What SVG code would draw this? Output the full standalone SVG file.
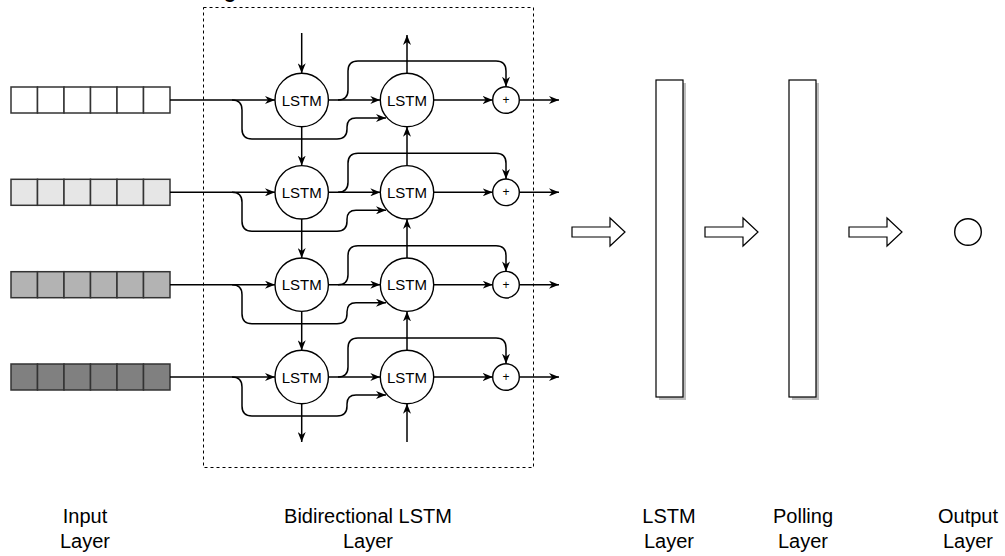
<svg xmlns="http://www.w3.org/2000/svg" width="1005" height="556" viewBox="0 0 1005 556">
  <style>
    .cell { stroke: #333; stroke-width: 1.5; }
    .node { fill: #fff; stroke: #000; stroke-width: 1.4; }
    .lbl { font-family: "Liberation Sans", Arial, sans-serif; fill: #000; text-anchor: middle; }
    .cap { font-size: 20px; }
    .in { font-size: 15px; dominant-baseline: central; }
    .plus { font-size: 12px; dominant-baseline: central; }
    .edge { fill: none; stroke: #000; stroke-width: 1.5; }
    .arr { marker-end: url(#ah); }
    .block { fill: #fff; stroke: #000; stroke-width: 1.2; }
    .shadow { fill: #bdbdbd; }
  </style>
  <defs>
    <marker id="ah" viewBox="0 0 10 8" refX="10" refY="4" markerWidth="10" markerHeight="8" orient="auto" markerUnits="userSpaceOnUse">
      <path d="M0,0 L10,4 L0,8 L3,4 z" fill="#000"/>
    </marker>
  </defs>

  <rect width="1005" height="556" fill="#fff"/>

  <!-- heading descender above the frame -->
  <text x="224" y="-2" font-family="Liberation Sans, Arial, sans-serif" font-size="20" font-weight="bold">g</text>

  <!-- bidirectional layer frame -->
  <rect id="bilstm-frame" x="203.5" y="7.5" width="330" height="460" fill="none" stroke="#000" stroke-width="1" stroke-dasharray="3 3"/>

  <!-- input sequences -->
  <g id="input-1" fill="#fff">
    <rect class="cell" x="11" y="87" width="26.5" height="26"/><rect class="cell" x="37.5" y="87" width="26.5" height="26"/><rect class="cell" x="64" y="87" width="26.5" height="26"/><rect class="cell" x="90.5" y="87" width="26.5" height="26"/><rect class="cell" x="117" y="87" width="26.5" height="26"/><rect class="cell" x="143.5" y="87" width="26.5" height="26"/>
  </g>
  <g id="input-2" fill="#e6e6e6">
    <rect class="cell" x="11" y="179.3" width="26.5" height="26"/><rect class="cell" x="37.5" y="179.3" width="26.5" height="26"/><rect class="cell" x="64" y="179.3" width="26.5" height="26"/><rect class="cell" x="90.5" y="179.3" width="26.5" height="26"/><rect class="cell" x="117" y="179.3" width="26.5" height="26"/><rect class="cell" x="143.5" y="179.3" width="26.5" height="26"/>
  </g>
  <g id="input-3" fill="#b3b3b3">
    <rect class="cell" x="11" y="271.7" width="26.5" height="26"/><rect class="cell" x="37.5" y="271.7" width="26.5" height="26"/><rect class="cell" x="64" y="271.7" width="26.5" height="26"/><rect class="cell" x="90.5" y="271.7" width="26.5" height="26"/><rect class="cell" x="117" y="271.7" width="26.5" height="26"/><rect class="cell" x="143.5" y="271.7" width="26.5" height="26"/>
  </g>
  <g id="input-4" fill="#808080">
    <rect class="cell" x="11" y="364" width="26.5" height="26"/><rect class="cell" x="37.5" y="364" width="26.5" height="26"/><rect class="cell" x="64" y="364" width="26.5" height="26"/><rect class="cell" x="90.5" y="364" width="26.5" height="26"/><rect class="cell" x="117" y="364" width="26.5" height="26"/><rect class="cell" x="143.5" y="364" width="26.5" height="26"/>
  </g>

  <!-- connectors -->
  <g id="connectors">
    <!-- row 1 -->
    <path class="edge arr" d="M170,100 H275"/>
    <path class="edge arr" d="M232,100 Q242,100 242,110 V129 Q242,139 252,139 H337 Q347,139 347,129 V127 Q347,118 356,118 H386"/>
    <path class="edge arr" d="M328.4,100 H380.3"/>
    <path class="edge arr" d="M338,100 Q348,100 348,90 V71 Q348,61 358,61 H496 Q506,61 506,71 V86.7"/>
    <path class="edge arr" d="M433.7,100 H492.7"/>
    <path class="edge arr" d="M519.3,100 H559"/>
    <!-- row 2 -->
    <path class="edge arr" d="M170,192.3 H275"/>
    <path class="edge arr" d="M232,192.3 Q242,192.3 242,202.3 V221.3 Q242,231.3 252,231.3 H337 Q347,231.3 347,221.3 V219.3 Q347,210.3 356,210.3 H386"/>
    <path class="edge arr" d="M328.4,192.3 H380.3"/>
    <path class="edge arr" d="M338,192.3 Q348,192.3 348,182.3 V163.3 Q348,153.3 358,153.3 H496 Q506,153.3 506,163.3 V179"/>
    <path class="edge arr" d="M433.7,192.3 H492.7"/>
    <path class="edge arr" d="M519.3,192.3 H559"/>
    <!-- row 3 -->
    <path class="edge arr" d="M170,284.7 H275"/>
    <path class="edge arr" d="M232,284.7 Q242,284.7 242,294.7 V313.7 Q242,323.7 252,323.7 H337 Q347,323.7 347,313.7 V311.7 Q347,302.7 356,302.7 H386"/>
    <path class="edge arr" d="M328.4,284.7 H380.3"/>
    <path class="edge arr" d="M338,284.7 Q348,284.7 348,274.7 V255.7 Q348,245.7 358,245.7 H496 Q506,245.7 506,255.7 V271.4"/>
    <path class="edge arr" d="M433.7,284.7 H492.7"/>
    <path class="edge arr" d="M519.3,284.7 H559"/>
    <!-- row 4 -->
    <path class="edge arr" d="M170,377 H275"/>
    <path class="edge arr" d="M232,377 Q242,377 242,387 V406 Q242,416 252,416 H337 Q347,416 347,406 V404 Q347,395 356,395 H386"/>
    <path class="edge arr" d="M328.4,377 H380.3"/>
    <path class="edge arr" d="M338,377 Q348,377 348,367 V348 Q348,338 358,338 H496 Q506,338 506,348 V363.7"/>
    <path class="edge arr" d="M433.7,377 H492.7"/>
    <path class="edge arr" d="M519.3,377 H559"/>
    <!-- forward chain (downwards) -->
    <path class="edge arr" d="M301.7,33 V73.3"/>
    <path class="edge arr" d="M301.7,126.7 V165.6"/>
    <path class="edge arr" d="M301.7,219 V258"/>
    <path class="edge arr" d="M301.7,311.4 V350.3"/>
    <path class="edge arr" d="M301.7,403.7 V442"/>
    <!-- backward chain (upwards) -->
    <path class="edge arr" d="M407,73.3 V35"/>
    <path class="edge arr" d="M407,165.6 V126.7"/>
    <path class="edge arr" d="M407,258 V219"/>
    <path class="edge arr" d="M407,350.3 V311.4"/>
    <path class="edge arr" d="M407,442 V403.7"/>
  </g>

  <!-- forward LSTM cells -->
  <g id="fw-lstm-1"><circle class="node" cx="301.7" cy="100" r="26.7"/><text class="lbl in" x="301.7" y="100">LSTM</text></g>
  <g id="fw-lstm-2"><circle class="node" cx="301.7" cy="192.3" r="26.7"/><text class="lbl in" x="301.7" y="192.3">LSTM</text></g>
  <g id="fw-lstm-3"><circle class="node" cx="301.7" cy="284.7" r="26.7"/><text class="lbl in" x="301.7" y="284.7">LSTM</text></g>
  <g id="fw-lstm-4"><circle class="node" cx="301.7" cy="377" r="26.7"/><text class="lbl in" x="301.7" y="377">LSTM</text></g>

  <!-- backward LSTM cells -->
  <g id="bw-lstm-1"><circle class="node" cx="407" cy="100" r="26.7"/><text class="lbl in" x="407" y="100">LSTM</text></g>
  <g id="bw-lstm-2"><circle class="node" cx="407" cy="192.3" r="26.7"/><text class="lbl in" x="407" y="192.3">LSTM</text></g>
  <g id="bw-lstm-3"><circle class="node" cx="407" cy="284.7" r="26.7"/><text class="lbl in" x="407" y="284.7">LSTM</text></g>
  <g id="bw-lstm-4"><circle class="node" cx="407" cy="377" r="26.7"/><text class="lbl in" x="407" y="377">LSTM</text></g>

  <!-- merge nodes -->
  <g id="sum-1"><circle class="node" cx="506" cy="100" r="13.3"/><text class="lbl plus" x="506" y="100">+</text></g>
  <g id="sum-2"><circle class="node" cx="506" cy="192.3" r="13.3"/><text class="lbl plus" x="506" y="192.3">+</text></g>
  <g id="sum-3"><circle class="node" cx="506" cy="284.7" r="13.3"/><text class="lbl plus" x="506" y="284.7">+</text></g>
  <g id="sum-4"><circle class="node" cx="506" cy="377" r="13.3"/><text class="lbl plus" x="506" y="377">+</text></g>

  <!-- block arrows between layers -->
  <g id="flow-1"><polygon class="block" points="572,227 610,227 610,218 625,232 610,246 610,237 572,237"/></g>
  <g id="flow-2"><polygon class="block" points="705,227 743,227 743,218 758,232 743,246 743,237 705,237"/></g>
  <g id="flow-3"><polygon class="block" points="849,227 887,227 887,218 902,232 887,246 887,237 849,237"/></g>

  <!-- LSTM layer -->
  <g id="lstm-layer">
    <rect class="shadow" x="659" y="83" width="27" height="317"/>
    <rect class="block" x="656" y="80" width="27" height="317"/>
  </g>

  <!-- pooling layer -->
  <g id="pooling-layer">
    <rect class="shadow" x="792" y="83" width="27" height="317"/>
    <rect class="block" x="789" y="80" width="27" height="317"/>
  </g>

  <!-- output node -->
  <g id="output-node"><circle class="node" cx="968" cy="232" r="13.3" stroke-width="1.2"/></g>

  <!-- layer captions -->
  <g id="captions">
    <text class="lbl cap" x="85" y="523">Input</text>
    <text class="lbl cap" x="85" y="548">Layer</text>
    <text class="lbl cap" x="368" y="523">Bidirectional LSTM</text>
    <text class="lbl cap" x="368" y="548">Layer</text>
    <text class="lbl cap" x="669" y="523">LSTM</text>
    <text class="lbl cap" x="669" y="548">Layer</text>
    <text class="lbl cap" x="803" y="523">Polling</text>
    <text class="lbl cap" x="803" y="548">Layer</text>
    <text class="lbl cap" x="968" y="523">Output</text>
    <text class="lbl cap" x="968" y="548">Layer</text>
  </g>
</svg>
